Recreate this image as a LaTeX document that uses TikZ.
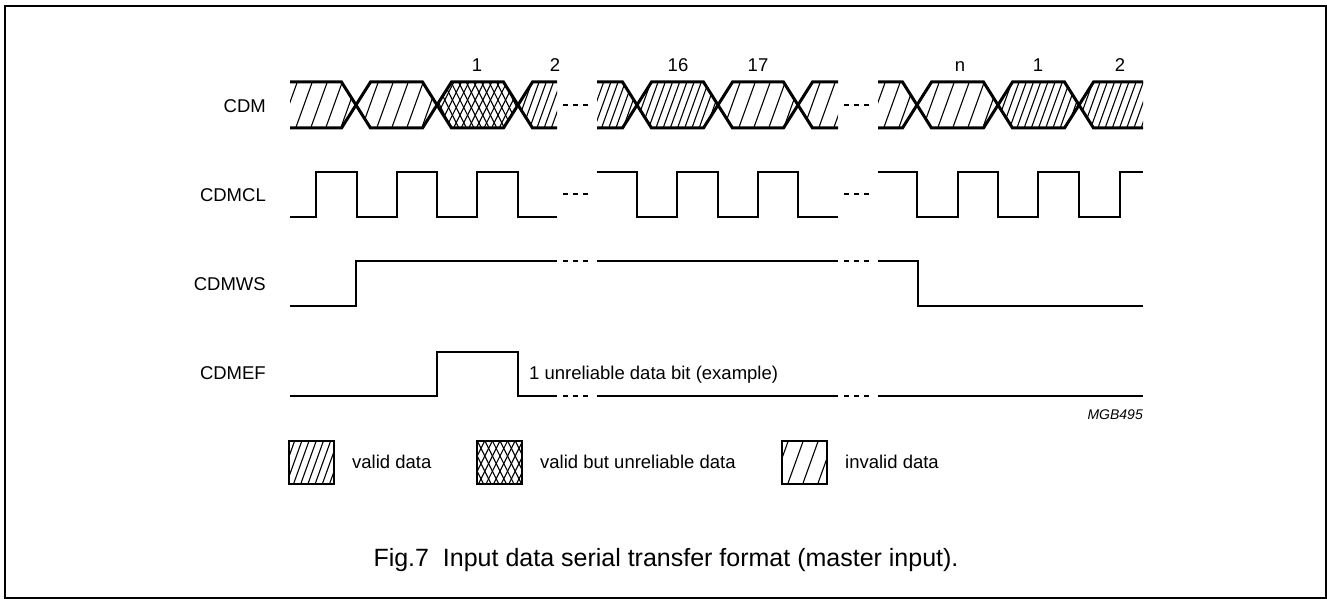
\documentclass[tikz,border=0pt]{standalone}
\usepackage{fontspec}
\setmainfont{Liberation Sans}
\newcommand\hatchlines[6]{% start end spacing slope ybot height
  \pgfmathsetmacro\hA{#1}\pgfmathsetmacro\hB{#1+#3}\pgfmathsetmacro\hC{#2}\pgfmathsetmacro\hD{#4*#6}%
  \foreach \xx in {\hA,\hB,...,\hC} \draw[hat] (\xx,#5) -- ++(\hD,-#6);}
\newcommand\patD[4]{\hatchlines{#1-25}{#2}{7.2}{0.36}{#3}{#4}}
\newcommand\patS[4]{\hatchlines{#1-25}{#2}{15}{0.36}{#3}{#4}}
\newcommand\patX[4]{\hatchlines{#1-30}{#2}{7.6}{0.5}{#3}{#4}\hatchlines{#1}{#2+30}{7.6}{-0.5}{#3}{#4}}
% interior cell between crossings #1 and #2
\newcommand\cellmid[3]{%
  \begin{scope}\clip (#1,105) -- (#1+14.5,82) -- (#2-14.5,82) -- (#2,105) -- (#2-14.5,128) -- (#1+14.5,128) -- cycle;
  \csname pat#3\endcsname{#1}{#2}{130}{50}\end{scope}
  \draw[outl] (#1,105) -- (#1+14.5,82) -- (#2-14.5,82) -- (#2,105) -- (#2-14.5,128) -- (#1+14.5,128) -- cycle;}
% first cell: open start #1, crossing #2
\newcommand\cellfirst[3]{%
  \begin{scope}\clip (#1,82) -- (#2-14.5,82) -- (#2,105) -- (#2-14.5,128) -- (#1,128) -- cycle;
  \csname pat#3\endcsname{#1}{#2}{130}{50}\end{scope}
  \draw[outl] (#1,82) -- (#2-14.5,82) -- (#2,105) -- (#2-14.5,128) -- (#1,128);}
% last cell: crossing #1, open end #2
\newcommand\celllast[3]{%
  \begin{scope}\clip (#1,105) -- (#1+14.5,82) -- (#2,82) -- (#2,128) -- (#1+14.5,128) -- cycle;
  \csname pat#3\endcsname{#1}{#2}{130}{50}\end{scope}
  \draw[outl] (#2,82) -- (#1+14.5,82) -- (#1,105) -- (#1+14.5,128) -- (#2,128);}
\begin{document}
\begin{tikzpicture}[x=1pt,y=-1pt,
  wave/.style={line width=2.6pt, line join=miter},
  outl/.style={line width=3pt, line join=miter},
  hat/.style={line width=1.1pt},
  gap/.style={line width=2.8pt, dash pattern=on 5pt off 5pt},
  lbl/.style={font=\fontsize{18.5}{22}\selectfont, inner sep=0pt},
  lgbox/.style={line width=1.5pt}]
\useasboundingbox (0,0) rectangle (1327,599);
\draw[line width=1.5pt] (5,6) rectangle (1326,598);

% CDM
\cellfirst{290}{356}{S}
\cellmid{356}{437}{S}
\cellmid{437}{518}{X}
\celllast{518}{557}{D}
\cellfirst{597}{637}{D}
\cellmid{637}{718}{D}
\cellmid{718}{798}{S}
\celllast{798}{838}{S}
\cellfirst{878}{917}{S}
\cellmid{917}{998}{S}
\cellmid{998}{1079}{D}
\celllast{1079}{1143}{D}
\draw[gap] (563,105) -- (592,105);
\draw[gap] (844,105) -- (873,105);

% CDMCL
\draw[wave] (290,217) -- (316,217) -- (316,172) -- (357,172) -- (357,217) -- (397,217) -- (397,172) -- (437,172) -- (437,217) -- (477,217) -- (477,172) -- (518,172) -- (518,217) -- (557,217);
\draw[gap] (563,194) -- (592,194);
\draw[wave] (597,172) -- (637,172) -- (637,217) -- (677,217) -- (677,172) -- (718,172) -- (718,217) -- (758,217) -- (758,172) -- (798,172) -- (798,217) -- (838,217);
\draw[gap] (844,194) -- (873,194);
\draw[wave] (878,172) -- (917,172) -- (917,217) -- (958,217) -- (958,172) -- (998,172) -- (998,217) -- (1038,217) -- (1038,172) -- (1079,172) -- (1079,217) -- (1120,217) -- (1120,172) -- (1143,172);

% CDMWS
\draw[wave] (290,306) -- (356,306) -- (356,261) -- (557,261);
\draw[gap] (563,261) -- (592,261);
\draw[wave] (597,261) -- (838,261);
\draw[gap] (844,261) -- (873,261);
\draw[wave] (878,261) -- (918,261) -- (918,306) -- (1143,306);

% CDMEF
\draw[wave] (290,396) -- (437,396) -- (437,352) -- (518,352) -- (518,396) -- (557,396);
\draw[gap] (563,396) -- (592,396);
\draw[wave] (597,396) -- (838,396);
\draw[gap] (844,396) -- (873,396);
\draw[wave] (878,396) -- (1143,396);

% labels
\node[lbl, anchor=east] (lcdm) at (266,106) {CDM};
\node[lbl, anchor=east] (lcl) at (266,195) {CDMCL};
\node[lbl, anchor=east] (lws) at (266,284) {CDMWS};
\node[lbl, anchor=east] (lef) at (266,373) {CDMEF};
\node[lbl, anchor=base] (b1) at (477,72) {1};
\node[lbl, anchor=base] (b2) at (555,72) {2};
\node[lbl, anchor=base] (b16) at (678,72) {16};
\node[lbl, anchor=base] (b17) at (758,72) {17};
\node[lbl, anchor=base] (bn) at (960,72) {n};
\node[lbl, anchor=base] (c1) at (1038,72) {1};
\node[lbl, anchor=base] (c2) at (1120,72) {2};
\node[lbl, anchor=base west] (unrel) at (529,379) {1 unreliable data bit (example)};
\node[inner sep=0pt, anchor=base east, font=\fontsize{14}{16}\selectfont\itshape] (code) at (1143,419) {MGB495};

% legend
\begin{scope}\clip (289,441) rectangle (334,484); \patD{289}{334}{486}{47}\end{scope}
\draw[lgbox] (289,441) rectangle (334,484);
\begin{scope}\clip (477,441) rectangle (522,484); \patX{477}{522}{486}{47}\end{scope}
\draw[lgbox] (477,441) rectangle (522,484);
\begin{scope}\clip (782,441) rectangle (827,484); \patS{782}{827}{486}{47}\end{scope}
\draw[lgbox] (782,441) rectangle (827,484);
\node[lbl, anchor=base west] (lg1) at (352,468) {valid data};
\node[lbl, anchor=base west] (lg2) at (540,468) {valid but unreliable data};
\node[lbl, anchor=base west] (lg3) at (845,468) {invalid data};

% caption
\node[inner sep=0pt, anchor=base, font=\fontsize{25}{30}\selectfont] (cap) at (666,566) {Fig.7\hspace{0.556em}Input data serial transfer format (master input).};
\end{tikzpicture}
\end{document}
